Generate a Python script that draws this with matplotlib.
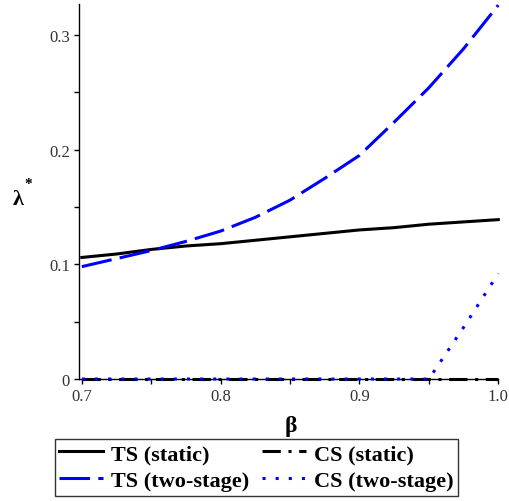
import matplotlib
matplotlib.use('Agg')
import matplotlib.pyplot as plt
from matplotlib.ticker import MultipleLocator

beta = [0.700, 0.725, 0.750, 0.775, 0.800, 0.825, 0.850, 0.875, 0.900, 0.925, 0.950, 0.975, 1.000]
ts_static = [0.106, 0.109, 0.113, 0.116, 0.118, 0.121, 0.124, 0.127, 0.130, 0.132, 0.135, 0.137, 0.139]
ts_two = [0.098, 0.105, 0.112, 0.120, 0.129, 0.141, 0.156, 0.175, 0.195, 0.224, 0.254, 0.288, 0.326]
cs_static = [0.0] * 13
cs_two = [0.0, 0.0, 0.0, 0.0, 0.0, 0.0, 0.0, 0.0, 0.0, 0.0, 0.0, 0.045, 0.092]

x_ticks = [0.7, 0.8, 0.9, 1.0]
x_labels = ['0.7', '0.8', '0.9', '1.0']
y_ticks = [0.0, 0.1, 0.2, 0.3]
y_labels = ['0', '0.1', '0.2', '0.3']

serif = 'Liberation Serif'
lw = 2.2

fig = plt.figure(figsize=(5.1, 5.02), dpi=100)
ax = fig.add_axes([0.155, 0.243, 0.822, 0.747])

l1, = ax.plot(beta, ts_static, color='black', lw=lw, label='TS (static)')
l2, = ax.plot(beta, ts_two, color='#0000ff', lw=lw, dashes=(10, 2.7), label='TS (two-stage)')
l3, = ax.plot(beta, cs_static, color='black', lw=lw, dashes=(6, 2.5, 1, 2.5), label='CS (static)')
l4, = ax.plot(beta, cs_two, color='#0000ff', lw=lw, dashes=(1, 3.3), label='CS (two-stage)')
for l in (l1, l2, l3, l4):
    l.set_clip_on(False)
    l.set_zorder(3)

ax.set_xlim(0.698, 1.0)
ax.set_ylim(0, 0.327)
ax.spines['top'].set_visible(False)
ax.spines['right'].set_visible(False)
ax.spines['left'].set_linewidth(1.0)
ax.spines['bottom'].set_linewidth(1.0)

ax.set_xticks(x_ticks)
ax.set_xticklabels(x_labels)
ax.set_yticks(y_ticks)
ax.set_yticklabels(y_labels)
ax.xaxis.set_minor_locator(MultipleLocator(0.05))
ax.yaxis.set_minor_locator(MultipleLocator(0.05))
ax.tick_params(which='both', direction='out', length=3.6, width=1, colors='black',
               labelcolor='#333333', labelsize=12, pad=3)
for lab in ax.get_xticklabels() + ax.get_yticklabels():
    lab.set_fontfamily(serif)

fig.text(18 / 510, 1 - 200 / 502, 'λ', fontfamily=serif, fontweight='bold',
         fontsize=16, ha='center', va='center')
fig.text(28 / 510, 1 - 185 / 502, '*', fontfamily=serif, fontweight='bold',
         fontsize=11, ha='center', va='center')
fig.text(291 / 510, 1 - 427 / 502, 'β', fontfamily=serif, fontweight='bold',
         fontsize=17, ha='center', va='center')

leg = fig.legend(handles=[l1, l2, l3, l4], loc='center', ncol=2,
                 bbox_to_anchor=(0.503, 0.067),
                 prop={'family': serif, 'weight': 'bold', 'size': 16},
                 frameon=True, fancybox=False, edgecolor='black',
                 handlelength=2.0, handletextpad=0.36, columnspacing=0.55,
                 labelspacing=0.3, borderpad=0.2, borderaxespad=0)
leg.get_frame().set_linewidth(1.0)

fig.savefig('out.png', dpi=100)
